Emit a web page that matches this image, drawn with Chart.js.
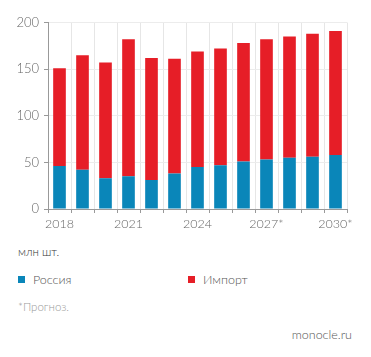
<!DOCTYPE html>
<html>
<head>
<meta charset="utf-8">
<script src="https://cdn.jsdelivr.net/npm/chart.js@4"></script>
<style>
  html, body { margin: 0; padding: 0; background: #fff; }
  body { width: 371px; height: 357px; position: relative; overflow: hidden; font-family: Lato, "Open Sans", sans-serif; font-weight: 300; }
  #wrap { position: absolute; left: 0; top: 0; width: 371px; height: 234px; }
  .txt { position: absolute; white-space: nowrap; }
  .sw { display: inline-block; width: 7px; height: 7px; margin-right: 8px; vertical-align: 1px; }
</style>
</head>
<body>
<div id="wrap"><canvas id="c"></canvas></div>
<div class="txt" id="unit" style="left:18px; top:245px; font-size:11.5px; color:#333;"></div>
<div class="txt" id="lg0" style="left:18px; top:272px; font-size:12.5px; color:#555;"></div>
<div class="txt" id="lg1" style="left:188px; top:272px; font-size:12.5px; color:#555;"></div>
<div class="txt" id="note" style="left:18px; top:300px; font-size:11.5px; color:#9a9a9a;"></div>
<div class="txt" id="src" style="right:19px; top:327px; font-size:12.5px; color:#555;"></div>
<script>
const years = ['2018','2019','2020','2021','2022','2023','2024','2025','2026','2027*','2028*','2029*','2030*'];
const russia = [46, 42, 33, 35, 31, 38, 45, 47, 51, 53, 55, 56, 58];
const imports = [105, 123, 124, 147, 131, 123, 124, 125, 127, 129, 130, 132, 133];
const seriesNames = ['Россия', 'Импорт'];
const seriesColors = ['#0a86b9', '#e61e27'];
const yTicks = [0, 50, 100, 150, 200];
const unitLabel = 'млн шт.';
const noteText = '*Прогноз.';
const sourceText = 'monocle.ru';

document.getElementById('unit').textContent = unitLabel;
document.getElementById('note').textContent = noteText;
document.getElementById('src').textContent = sourceText;
['lg0','lg1'].forEach((id, i) => {
  const el = document.getElementById(id);
  const sw = document.createElement('span');
  sw.className = 'sw';
  sw.style.background = seriesColors[i];
  el.appendChild(sw);
  el.appendChild(document.createTextNode(seriesNames[i]));
});

new Chart(document.getElementById('c'), {
  type: 'bar',
  data: {
    labels: years,
    datasets: [
      { label: seriesNames[0], data: russia, backgroundColor: seriesColors[0], borderWidth: 0 },
      { label: seriesNames[1], data: imports, backgroundColor: seriesColors[1], borderWidth: 0 }
    ]
  },
  options: {
    responsive: true,
    maintainAspectRatio: false,
    animation: false,
    layout: { padding: { top: 22.5, right: 24, left: 0, bottom: 0 } },
    plugins: { legend: { display: false }, tooltip: { enabled: false } },
    datasets: { bar: { categoryPercentage: 1, barPercentage: 0.55 } },
    scales: {
      x: {
        stacked: true,
        grid: { offset: true, color: '#e6e6e6', tickColor: '#999', tickLength: 4, lineWidth: 1 },
        border: { color: '#999' },
        ticks: {
          autoSkip: false, maxRotation: 0, padding: 3,
          color: '#666', font: { family: 'Lato', size: 12.5, weight: '300' },
          callback: function(v, i) { return i % 3 === 0 ? years[i] : ''; }
        }
      },
      y: {
        stacked: true,
        min: 0, max: 200,
        afterBuildTicks: (s) => { s.ticks = yTicks.map(v => ({ value: v })); },
        afterFit: (s) => { s.width = 48; },
        grid: { color: '#ececec', tickColor: '#999', tickLength: 4 },
        border: { color: '#999' },
        ticks: { padding: 5, color: '#666', font: { family: 'Lato', size: 13, weight: '300' } }
      }
    }
  }
});
</script>
</body>
</html>
